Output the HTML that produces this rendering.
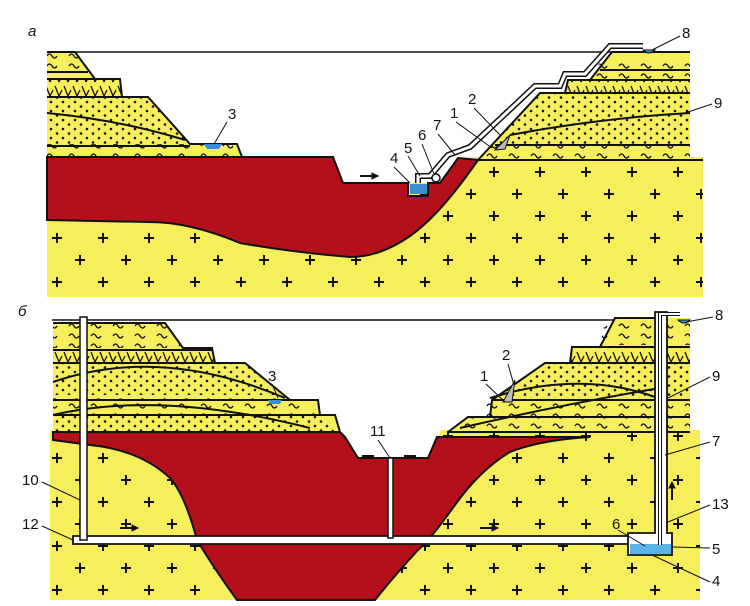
<!DOCTYPE html>
<html><head><meta charset="utf-8"><style>
html,body{margin:0;padding:0;background:#fff;}
svg{display:block;}
text{font-family:"Liberation Sans",sans-serif;font-size:15px;fill:#111;}
</style></head><body>
<svg width="750" height="606" viewBox="0 0 750 606" xmlns="http://www.w3.org/2000/svg">
<defs>
<pattern id="cross" width="46" height="44" patternUnits="userSpaceOnUse" x="0" y="10">
<path d="M6 8h10M11 3v10M29 30h10M34 25v10" stroke="#111" stroke-width="2"/>
</pattern>
<pattern id="dots" width="12" height="9" patternUnits="userSpaceOnUse">
<circle cx="3" cy="3" r="1.3" fill="#111"/><circle cx="9" cy="7.5" r="1.3" fill="#111"/>
</pattern>
<pattern id="wave" width="22" height="10" patternUnits="userSpaceOnUse">
<path d="M3 6q2.5-4 5 0t5 0" stroke="#111" stroke-width="1.3" fill="none"/>
</pattern>
<pattern id="hatch" width="9" height="14" patternUnits="userSpaceOnUse">
<path d="M1 2l4 10M5 12l3-6" stroke="#111" stroke-width="1.3" fill="none"/>
</pattern>
</defs>

<!-- ===== PANEL A ===== -->
<text x="28" y="36" font-style="italic" font-size="17">а</text>
<line x1="47" y1="52" x2="690" y2="52" stroke="#111" stroke-width="1.5"/>
<!-- bedrock -->
<rect x="47" y="157" width="656" height="140" fill="#f6ee5a"/>
<rect x="47" y="157" width="656" height="140" fill="url(#cross)"/>
<path d="M330 155 L343 183 L440 183 L460 155Z" fill="#fff"/>
<!-- left strata -->
<path d="M47 52 L75 52 L95 79 L120 79 L122 97 L148 97 L190 144 L237 144 L242 157 L47 157Z" fill="#f6ee5a"/>
<path d="M47 52 L75 52 L87 70 L47 70Z" fill="url(#wave)"/>
<path d="M47 79 L120 79 L122 97 L47 97Z" fill="url(#hatch)"/>
<path d="M47 97 L148 97 L190 144 L47 144Z" fill="url(#dots)"/>
<path d="M47 144 L237 144 L242 157 L47 157Z" fill="url(#wave)"/>
<path d="M47 52 L75 52 L95 79 L120 79 L122 97 L148 97 L190 144 L237 144 L242 157" fill="none" stroke="#111" stroke-width="2"/>
<path d="M47 72H88M47 79H95M47 97H148M47 146H190M47 113Q120 120 185 140" fill="none" stroke="#111" stroke-width="2"/>
<path d="M204 144h18l-3 5h-12z" fill="#3a8fd0"/>
<!-- red ore a -->
<path d="M47 157 L333 157 L343 183 L408 183 L408 196 L428 196 L428 183 L440 183 L458 158 L478 160 Q440 215 410 236 Q380 257 350 257 Q290 252 240 243 Q190 222 150 222 L47 220Z" fill="#b3101c" stroke="#111" stroke-width="2"/>
<path d="M410 184h17v10h-17z" fill="#3a8fd0"/>
<path d="M360 176h18" stroke="#111" stroke-width="2"/><path d="M378 176l-6-3v6z" fill="#111" stroke="#111"/>
<!-- right strata a -->
<path d="M478 160 L540 93 L565 93 L568 80 L590 80 L612 52 L690 52 L690 160Z" fill="#f6ee5a"/>
<path d="M600 62 L690 62 L690 80 L590 80Z" fill="url(#wave)"/>
<path d="M568 80 L690 80 L690 93 L565 93Z" fill="url(#hatch)"/>
<path d="M540 93 L690 93 L690 145 L492 145Z" fill="url(#dots)"/>
<path d="M492 145 L690 145 L690 160 L478 160Z" fill="url(#wave)"/>
<path d="M478 160 L540 93 L565 93 L568 80 L590 80 L612 52 L690 52" fill="none" stroke="#111" stroke-width="2"/>
<path d="M540 93H690M568 80H690M600 70H690M495 145H690M478 160H703M510 135Q600 118 690 113" fill="none" stroke="#111" stroke-width="2"/>
<!-- pipe a -->
<path d="M418 183 L418 176 L430 176 L448 155 L470 147 L535 86 L560 86 L565 74 L585 74 L610 46 L643 46" fill="none" stroke="#111" stroke-width="6"/>
<path d="M418 183 L418 176 L430 176 L448 155 L470 147 L535 86 L560 86 L565 74 L585 74 L610 46 L643 46" fill="none" stroke="#fff" stroke-width="3"/>
<circle cx="436" cy="178" r="4" fill="#fff" stroke="#111" stroke-width="1.5"/>
<path d="M643 50q6 6 12 0z" fill="#3a8fd0" stroke="#111"/>
<path d="M495 150l15-15-5 14z" fill="#bbb" stroke="#111"/>
<!-- labels a -->
<text x="228" y="119">3</text><line x1="227" y1="122" x2="214" y2="144" stroke="#111"/>
<text x="390" y="163">4</text><line x1="394" y1="167" x2="410" y2="183" stroke="#111"/>
<text x="404" y="153">5</text><line x1="408" y1="156" x2="420" y2="176" stroke="#111"/>
<text x="418" y="140">6</text><line x1="422" y1="144" x2="434" y2="174" stroke="#111"/>
<text x="433" y="130">7</text><line x1="438" y1="134" x2="455" y2="155" stroke="#111"/>
<text x="450" y="118">1</text><line x1="456" y1="122" x2="492" y2="148" stroke="#111"/>
<text x="468" y="104">2</text><line x1="474" y1="108" x2="500" y2="135" stroke="#111"/>
<text x="682" y="38">8</text><line x1="680" y1="36" x2="652" y2="50" stroke="#111"/>
<text x="714" y="108">9</text><line x1="712" y1="104" x2="685" y2="113" stroke="#111"/>

<!-- ===== PANEL B ===== -->
<text x="18" y="316" font-style="italic" font-size="17">б</text>
<line x1="52" y1="320" x2="660" y2="320" stroke="#111" stroke-width="1.5"/>
<rect x="50" y="430" width="650" height="170" fill="#f6ee5a"/>
<rect x="50" y="430" width="650" height="170" fill="url(#cross)"/>
<path d="M335 428 L358 458 L428 458 L442 428Z" fill="#fff"/>
<!-- left strata b -->
<path d="M53 323 L165 323 L183 348 L212 348 L215 363 L245 363 L290 400 L318 400 L320 415 L335 415 L340 432 L53 432Z" fill="#f6ee5a"/>
<path d="M53 323 L165 323 L183 348 L53 348Z" fill="url(#wave)"/>
<path d="M53 350 L212 350 L215 363 L53 363Z" fill="url(#hatch)"/>
<path d="M53 363 L245 363 L280 395 L53 395Z" fill="url(#dots)"/>
<path d="M53 398 L290 398 L320 415 L53 415Z" fill="url(#wave)"/>
<path d="M53 415 L320 415 L335 432 L53 432Z" fill="url(#dots)"/>
<path d="M53 323 L165 323 L183 348 L212 348 L215 363 L245 363 L290 400 L318 400 L320 415 L335 415 L340 432" fill="none" stroke="#111" stroke-width="2"/>
<path d="M53 350H212M53 363H245M53 400H290M53 415H320M53 382Q160 345 285 398M53 415Q160 390 310 428" fill="none" stroke="#111" stroke-width="2"/>
<path d="M268 400h14l-2 4h-10z" fill="#3a8fd0"/>
<!-- right strata b -->
<path d="M448 432 L468 417 L490 417 L492 400 L545 363 L570 363 L572 347 L600 347 L615 318 L690 318 L690 432Z" fill="#f6ee5a"/>
<path d="M605 322 L690 322 L690 345 L600 345Z" fill="url(#wave)"/>
<path d="M572 347 L690 347 L690 363 L570 363Z" fill="url(#hatch)"/>
<path d="M545 363 L690 363 L690 398 L495 398Z" fill="url(#dots)"/>
<path d="M492 400 L690 400 L690 417 L470 417Z" fill="url(#wave)"/>
<path d="M468 417 L690 417 L690 432 L448 432Z" fill="url(#wave)"/>
<path d="M448 432 L468 417 L490 417 L492 400 L545 363 L570 363 L572 347 L600 347 L615 318 L660 318" fill="none" stroke="#111" stroke-width="2"/>
<path d="M545 363H690M572 347H690M492 400H690M468 417H690M448 432H690M490 398Q580 370 655 397M460 428Q560 405 660 388" fill="none" stroke="#111" stroke-width="2"/>
<path d="M503 402l12-22-3 22z" fill="#bbb" stroke="#111"/>
<!-- red ore b -->
<path d="M53 432 L340 432 L345 437 L358 458 L428 458 L437 437 L450 437 L590 437 Q540 440 510 452 Q480 470 455 505 Q430 540 418 550 Q395 575 375 600 L237 600 Q215 570 197 540 Q185 495 170 478 Q140 450 90 445 L53 440Z" fill="#b3101c" stroke="#111" stroke-width="2"/>
<!-- drift 12 -->
<path d="M73 536 H630 V544 H73Z" fill="#fff" stroke="#111" stroke-width="1.8"/>
<!-- shaft 10 -->
<rect x="80" y="317" width="7" height="223" fill="#fff" stroke="#111" stroke-width="1.5"/>
<!-- shaft 11 -->
<rect x="388" y="458" width="5" height="80" fill="#fff" stroke="#111" stroke-width="1.5"/>
<!-- shaft 7 / sump -->
<path d="M628 533 H655 V312 H667 V533 H672 V555 H628Z" fill="#fff" stroke="#111" stroke-width="1.8"/>
<rect x="630" y="544" width="41" height="10" fill="#5ab4e8"/>
<path d="M660 545 V314 H680" fill="none" stroke="#111" stroke-width="4"/>
<path d="M660 545 V314 H680" fill="none" stroke="#fff" stroke-width="2"/>
<path d="M678 320q6 6 12 0z" fill="#3a8fd0" stroke="#111"/>
<!-- arrows b -->
<path d="M120 528h16" stroke="#111" stroke-width="2"/><path d="M138 528l-6-3v6z" fill="#111" stroke="#111"/>
<path d="M480 528h16" stroke="#111" stroke-width="2"/><path d="M498 528l-6-3v6z" fill="#111" stroke="#111"/>
<path d="M672 500v-16" stroke="#111" stroke-width="2"/><path d="M672 482l-3 6h6z" fill="#111" stroke="#111"/>
<path d="M362 456h12M404 456h12" stroke="#111" stroke-width="2"/>
<!-- labels b -->
<text x="268" y="381">3</text><line x1="272" y1="384" x2="278" y2="398" stroke="#111"/>
<text x="480" y="381">1</text><line x1="486" y1="384" x2="505" y2="402" stroke="#111"/>
<text x="502" y="360">2</text><line x1="508" y1="364" x2="514" y2="385" stroke="#111"/>
<text x="370" y="436">11</text><line x1="378" y1="440" x2="390" y2="458" stroke="#111"/>
<text x="715" y="320">8</text><line x1="713" y1="317" x2="686" y2="322" stroke="#111"/>
<text x="712" y="381">9</text><line x1="710" y1="377" x2="668" y2="398" stroke="#111"/>
<text x="712" y="446">7</text><line x1="710" y1="442" x2="665" y2="455" stroke="#111"/>
<text x="712" y="509">13</text><line x1="710" y1="505" x2="668" y2="522" stroke="#111"/>
<text x="612" y="529">6</text><line x1="618" y1="530" x2="645" y2="546" stroke="#111"/>
<text x="712" y="554">5</text><line x1="710" y1="548" x2="672" y2="547" stroke="#111"/>
<text x="712" y="586">4</text><line x1="710" y1="582" x2="652" y2="555" stroke="#111"/>
<text x="22" y="485">10</text><line x1="42" y1="482" x2="80" y2="500" stroke="#111"/>
<text x="22" y="529">12</text><line x1="42" y1="526" x2="73" y2="540" stroke="#111"/>
</svg>
</body></html>
